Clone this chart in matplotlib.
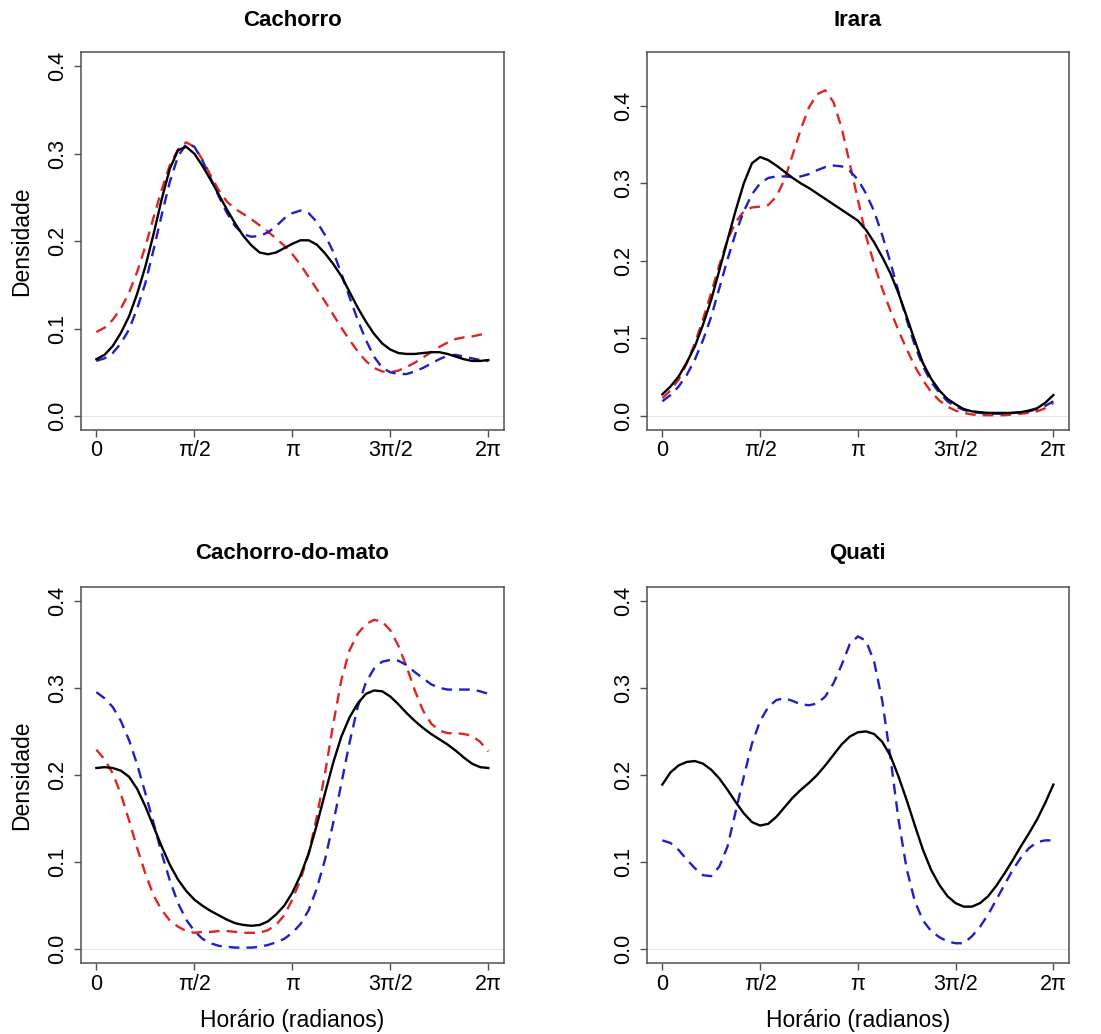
import numpy as np
import matplotlib
matplotlib.use("Agg")
import matplotlib.pyplot as plt

plt.rcParams['font.family'] = ['Liberation Sans', 'DejaVu Sans']

# horas de 0 a 24, de meia em meia hora (convertidas para radianos abaixo)
horas = np.arange(0, 24.5, 0.5)

titulos = ["Cachorro", "Irara", "Cachorro-do-mato", "Quati"]

# Cachorro
cach_preto = [0.065, 0.070, 0.080, 0.095, 0.114, 0.140, 0.171, 0.208, 0.248, 0.283,
              0.304, 0.308, 0.300, 0.286, 0.270, 0.253, 0.236, 0.220, 0.206, 0.195,
              0.187, 0.185, 0.187, 0.192, 0.197, 0.201, 0.201, 0.196, 0.186, 0.174,
              0.160, 0.142, 0.124, 0.108, 0.094, 0.083, 0.076, 0.072, 0.071, 0.071,
              0.072, 0.073, 0.073, 0.071, 0.068, 0.065, 0.063, 0.063, 0.064]
cach_verm = [0.096, 0.101, 0.110, 0.123, 0.141, 0.165, 0.194, 0.227, 0.259, 0.287,
             0.305, 0.313, 0.308, 0.293, 0.275, 0.258, 0.245, 0.237, 0.231, 0.225,
             0.218, 0.211, 0.203, 0.195, 0.185, 0.173, 0.159, 0.145, 0.131, 0.116,
             0.101, 0.087, 0.074, 0.063, 0.055, 0.051, 0.050, 0.052, 0.056, 0.061,
             0.067, 0.073, 0.079, 0.084, 0.088, 0.090, 0.091, 0.093, 0.095]
cach_azul = [0.063, 0.066, 0.072, 0.083, 0.099, 0.123, 0.152, 0.190, 0.230, 0.268,
             0.297, 0.311, 0.308, 0.292, 0.272, 0.251, 0.232, 0.217, 0.208, 0.205,
             0.206, 0.210, 0.217, 0.226, 0.232, 0.235, 0.232, 0.222, 0.207, 0.188,
             0.163, 0.136, 0.110, 0.087, 0.068, 0.055, 0.050, 0.048, 0.048, 0.051,
             0.055, 0.060, 0.065, 0.069, 0.070, 0.068, 0.066, 0.064, 0.063]

# Irara
irara_preto = [0.028, 0.038, 0.051, 0.069, 0.090, 0.118, 0.150, 0.188, 0.227, 0.265,
               0.300, 0.326, 0.334, 0.330, 0.323, 0.315, 0.307, 0.300, 0.294, 0.287,
               0.280, 0.273, 0.266, 0.259, 0.252, 0.240, 0.224, 0.205, 0.184, 0.158,
               0.128, 0.097, 0.068, 0.048, 0.033, 0.022, 0.015, 0.009, 0.006, 0.005,
               0.004, 0.004, 0.004, 0.004, 0.005, 0.007, 0.010, 0.017, 0.027]
irara_verm = [0.023, 0.033, 0.047, 0.068, 0.094, 0.125, 0.159, 0.195, 0.227, 0.250,
              0.264, 0.269, 0.270, 0.272, 0.283, 0.305, 0.337, 0.370, 0.398, 0.415,
              0.420, 0.405, 0.372, 0.326, 0.279, 0.232, 0.196, 0.164, 0.136, 0.110,
              0.086, 0.064, 0.046, 0.031, 0.020, 0.012, 0.007, 0.004, 0.002, 0.001,
              0.001, 0.001, 0.001, 0.002, 0.003, 0.004, 0.006, 0.010, 0.017]
irara_azul = [0.019, 0.027, 0.038, 0.053, 0.073, 0.098, 0.128, 0.165, 0.202, 0.236,
              0.264, 0.286, 0.300, 0.307, 0.309, 0.309, 0.308, 0.309, 0.312, 0.317,
              0.321, 0.323, 0.322, 0.316, 0.305, 0.287, 0.264, 0.233, 0.198, 0.160,
              0.124, 0.091, 0.064, 0.044, 0.030, 0.019, 0.012, 0.008, 0.005, 0.004,
              0.003, 0.003, 0.003, 0.004, 0.005, 0.006, 0.009, 0.013, 0.019]

# Cachorro-do-mato
mato_preto = [0.208, 0.209, 0.208, 0.205, 0.198, 0.184, 0.164, 0.141, 0.118, 0.097,
              0.080, 0.067, 0.057, 0.050, 0.044, 0.039, 0.034, 0.030, 0.028, 0.027,
              0.028, 0.032, 0.040, 0.050, 0.065, 0.085, 0.110, 0.143, 0.179, 0.214,
              0.244, 0.266, 0.282, 0.293, 0.297, 0.296, 0.290, 0.281, 0.271, 0.262,
              0.254, 0.247, 0.241, 0.235, 0.228, 0.220, 0.213, 0.209, 0.208]
mato_verm = [0.229, 0.218, 0.202, 0.178, 0.148, 0.116, 0.087, 0.062, 0.045, 0.033,
             0.026, 0.021, 0.019, 0.020, 0.020, 0.021, 0.021, 0.020, 0.019, 0.019,
             0.019, 0.022, 0.028, 0.039, 0.057, 0.080, 0.110, 0.152, 0.202, 0.258,
             0.309, 0.343, 0.362, 0.373, 0.378, 0.376, 0.366, 0.348, 0.324, 0.297,
             0.274, 0.259, 0.251, 0.248, 0.248, 0.247, 0.245, 0.238, 0.227]
mato_azul = [0.295, 0.288, 0.278, 0.262, 0.240, 0.212, 0.179, 0.145, 0.110, 0.079,
             0.053, 0.034, 0.021, 0.012, 0.007, 0.004, 0.003, 0.002, 0.002, 0.002,
             0.003, 0.005, 0.008, 0.012, 0.019, 0.029, 0.045, 0.070, 0.103, 0.145,
             0.190, 0.237, 0.278, 0.306, 0.322, 0.330, 0.332, 0.331, 0.326, 0.318,
             0.311, 0.304, 0.300, 0.298, 0.298, 0.298, 0.298, 0.296, 0.293]

# Quati (sem curva vermelha)
quati_preto = [0.189, 0.203, 0.211, 0.215, 0.216, 0.213, 0.206, 0.196, 0.183, 0.169,
               0.156, 0.146, 0.142, 0.144, 0.152, 0.163, 0.174, 0.183, 0.191, 0.200,
               0.211, 0.223, 0.235, 0.244, 0.249, 0.250, 0.247, 0.238, 0.222, 0.198,
               0.171, 0.142, 0.114, 0.091, 0.074, 0.061, 0.053, 0.049, 0.049, 0.053,
               0.061, 0.073, 0.087, 0.102, 0.118, 0.133, 0.149, 0.168, 0.189]
quati_azul = [0.125, 0.122, 0.114, 0.103, 0.093, 0.085, 0.084, 0.095, 0.118, 0.158,
              0.198, 0.236, 0.262, 0.278, 0.286, 0.288, 0.285, 0.281, 0.280, 0.282,
              0.290, 0.305, 0.326, 0.350, 0.359, 0.354, 0.330, 0.285, 0.220, 0.148,
              0.092, 0.055, 0.033, 0.021, 0.014, 0.009, 0.007, 0.007, 0.015, 0.026,
              0.040, 0.057, 0.074, 0.091, 0.105, 0.116, 0.123, 0.125, 0.125]

pretos = [cach_preto, irara_preto, mato_preto, quati_preto]
vermelhos = [cach_verm, irara_verm, mato_verm, None]
azuis = [cach_azul, irara_azul, mato_azul, quati_azul]
ytops = [0.40, 0.451, 0.40, 0.40]

xticks = [0, np.pi / 2, np.pi, 3 * np.pi / 2, 2 * np.pi]
xlabels = ["0", "π/2", "π", "3π/2", "2π"]

W, H = 1101, 1034
fig = plt.figure(figsize=(W / 100, H / 100), dpi=100)

# posicoes dos paineis em pixels (esq, topo, dir, baixo)
caixas = [(80.7, 52.3, 504, 430), (646.7, 52.3, 1069, 430),
          (80.7, 586.7, 504, 963.3), (646.7, 586.7, 1069, 963.3)]

x = horas * np.pi / 12
cinza = '#505050'

for i in range(4):
    l, t, r, b = caixas[i]
    ax = fig.add_axes([l / W, 1 - b / H, (r - l) / W, (b - t) / H])
    ax.axhline(0, color='#e6e6e6', lw=0.8, zorder=0)
    ax.plot(x, pretos[i], color='black', lw=1.7, zorder=3)
    if vermelhos[i] is not None:
        ax.plot(x, vermelhos[i], color='#dc2626', lw=1.7, dashes=(4.5, 3), zorder=2)
    ax.plot(x, azuis[i], color='#2020c0', lw=1.7, dashes=(4.5, 3), zorder=2)

    ext = 0.04 * 2 * np.pi
    ax.set_xlim(-ext, 2 * np.pi + ext)
    ax.set_ylim(-0.04 * ytops[i], ytops[i] * 1.04)
    ax.set_xticks(xticks)
    ax.set_xticklabels(xlabels)
    ax.set_yticks([0.0, 0.1, 0.2, 0.3, 0.4])
    ax.set_yticklabels(["0.0", "0.1", "0.2", "0.3", "0.4"])
    ax.tick_params(axis='both', direction='out', length=5, width=1, color=cinza,
                   labelsize=15.5)
    ax.tick_params(axis='x', pad=2.5)
    ax.tick_params(axis='y', pad=4)
    for lab in ax.get_yticklabels():
        lab.set_rotation(90)
        lab.set_va('center')
    for s in ax.spines.values():
        s.set_color(cinza)
        s.set_linewidth(1.1)

    hpx = b - t
    wpx = r - l
    ax.text(0.5, 1 + (t - (20 if i < 2 else 553.5)) / hpx, titulos[i],
            transform=ax.transAxes, ha='center', va='center',
            fontsize=16, fontweight='bold')
    if i % 2 == 0:
        ax.text((21.7 - l) / wpx, 0.5, "Densidade", transform=ax.transAxes,
                rotation=90, ha='center', va='center', fontsize=16.5)
    if i >= 2:
        ax.text(0.5, -(1020 - b) / hpx, "Horário (radianos)", transform=ax.transAxes,
                ha='center', va='center', fontsize=16.5)

fig.savefig("out.png", dpi=100)
